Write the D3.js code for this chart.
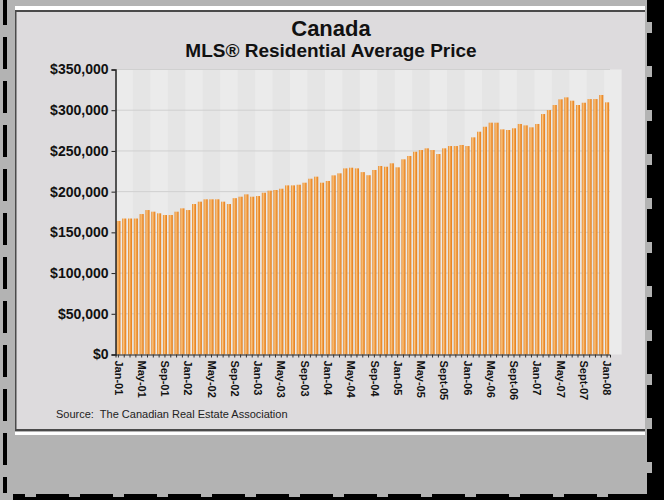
<!DOCTYPE html>
<html>
<head>
<meta charset="utf-8">
<script src="https://cdn.jsdelivr.net/npm/d3@7"></script>
<style>
  html, body { margin: 0; padding: 0; background: #b3b3b3; }
  svg { display: block; font-family: "Liberation Sans", Arial, sans-serif; }
</style>
</head>
<body>
<div id="chart"></div>
<script>
// monthly average price, Jan-01 .. Jan-08 (thousands of dollars)
const years = ["01", "02", "03", "04", "05", "06", "07", "08"];
const monthNames = ["Jan", "Feb", "Mar", "Apr", "May", "Jun", "Jul", "Aug", "Sep", "Oct", "Nov", "Dec"];

const prices = [
    164, 167, 167, 167, 172.5, 177.4, 175.4, 173.4, 171.3, 171.3, 175.4, 179.5,
    177.4, 184.8, 187.7, 190.6, 190.6, 190.6, 187.7, 184.8, 192, 193.8, 196.7, 193.8,
    194.6, 198.7, 201.2, 202, 203.6, 207.7, 207.7, 208.5, 211, 215.9, 218.4, 211,
    213.1, 220, 222.5, 228.6, 229.4, 228.6, 224, 220.2, 226.6, 231.5, 230.6, 234.8,
    229.9, 239.7, 243.8, 249, 251.1, 253.2, 251.1, 246.2, 253.2, 256, 256, 257.3,
    256, 266.7, 273.6, 279.7, 284.7, 284.7, 276.5, 275.7, 277.8, 283.1, 281.4, 279,
    283.1, 295.3, 300.2, 306.4, 313.4, 315.8, 311.7, 306.4, 309.2, 313.7, 313.7, 318.7,
    309.7
];

const tickLabels = ["Jan-01", "May-01", "Sep-01", "Jan-02", "May-02", "Sep-02", "Jan-03", "May-03",
    "Sep-03", "Jan-04", "May-04", "Sep-04", "Jan-05", "May-05", "Sept-05", "Jan-06",
    "May-06", "Sept-06", "Jan-07", "May-07", "Sept-07", "Jan-08"];

const yTicks = [0, 50000, 100000, 150000, 200000, 250000, 300000, 350000];

const months = prices.map((d, i) => monthNames[i % 12] + "-" + years[Math.floor(i / 12)]);
const data = prices.map((p, i) => ({ month: months[i], price: p * 1000 }));

const width = 664, height = 500;
const plot = { left: 115.5, right: 610, top: 69.5, bottom: 354.5 };

const svg = d3.select("#chart").append("svg")
    .attr("width", width)
    .attr("height", height);

const defs = svg.append("defs");
const grad = defs.append("linearGradient")
    .attr("id", "barGrad")
    .attr("x1", 0).attr("x2", 1).attr("y1", 0).attr("y2", 0);
grad.append("stop").attr("offset", "0%").attr("stop-color", "#e57d17");
grad.append("stop").attr("offset", "35%").attr("stop-color", "#f9c684");
grad.append("stop").attr("offset", "60%").attr("stop-color", "#f3a04a");
grad.append("stop").attr("offset", "100%").attr("stop-color", "#e27912");

// ---- frame ----
svg.append("rect").attr("width", width).attr("height", height).attr("fill", "#b3b3b3");

// left dashed edge
svg.append("line")
    .attr("x1", 5).attr("x2", 5).attr("y1", 0).attr("y2", 493)
    .attr("stroke", "#000").attr("stroke-width", 4)
    .attr("stroke-dasharray", "32 12").attr("stroke-dashoffset", 7);

// right black edge with notches
svg.append("rect").attr("x", 647).attr("y", 0).attr("width", 17).attr("height", height).attr("fill", "#000");
svg.append("g").selectAll("rect")
    .data(d3.range(22, 500, 44))
    .join("rect")
    .attr("x", 645).attr("y", d => d).attr("width", 7).attr("height", 11)
    .attr("fill", "#b3b3b3");

// bottom black edge with notches
svg.append("rect").attr("x", 13).attr("y", 494).attr("width", width - 13).attr("height", 6).attr("fill", "#000");
svg.append("g").selectAll("rect")
    .data(d3.range(25, 640, 44))
    .join("rect")
    .attr("x", d => d).attr("y", 492).attr("width", 11).attr("height", 5)
    .attr("fill", "#b3b3b3");

// panel
svg.append("rect").attr("x", 15).attr("y", 6).attr("width", 630).attr("height", 4).attr("fill", "#fff");
svg.append("rect").attr("x", 15).attr("y", 432).attr("width", 630).attr("height", 3).attr("fill", "#fff");
svg.append("rect").attr("x", 15).attr("y", 10).attr("width", 630).attr("height", 421).attr("fill", "#dddbdd");
svg.append("rect").attr("x", 15).attr("y", 10).attr("width", 630).attr("height", 2).attr("fill", "#4a4a4a");
svg.append("rect").attr("x", 15).attr("y", 429).attr("width", 630).attr("height", 2).attr("fill", "#4a4a4a");
svg.append("rect").attr("x", 15).attr("y", 10).attr("width", 1.5).attr("height", 421).attr("fill", "#4a4a4a");

// ---- scales ----
const x = d3.scaleBand()
    .domain(months)
    .range([plot.left, plot.right])
    .paddingInner(0.3)
    .paddingOuter(0.15);

const y = d3.scaleLinear()
    .domain([0, 350000])
    .range([plot.bottom, plot.top]);

// plot background with soft vertical bands
svg.append("rect")
    .attr("x", plot.left).attr("y", plot.top)
    .attr("width", plot.right - plot.left).attr("height", plot.bottom - plot.top)
    .attr("fill", "#e5e5e5");

const step = x.step();
svg.append("g").selectAll("rect")
    .data(d3.range(0, months.length, 6))
    .join("rect")
    .attr("x", i => plot.left + i * step)
    .attr("y", plot.top)
    .attr("width", 3 * step)
    .attr("height", plot.bottom - plot.top)
    .attr("fill", "#ebebeb");

// gridlines
svg.append("g").selectAll("line")
    .data(yTicks.filter(d => d > 0))
    .join("line")
    .attr("x1", plot.left).attr("x2", plot.right)
    .attr("y1", d => y(d)).attr("y2", d => y(d))
    .attr("stroke", "#d0d0d0").attr("stroke-width", 1);

// bars
svg.append("g").selectAll("rect")
    .data(data)
    .join("rect")
    .attr("x", d => x(d.month))
    .attr("y", d => y(d.price))
    .attr("width", x.bandwidth())
    .attr("height", d => y(0) - y(d.price))
    .attr("fill", "url(#barGrad)");

// y axis
const yAxis = svg.append("g")
    .attr("transform", `translate(${plot.left},0)`)
    .call(d3.axisLeft(y).tickValues(yTicks).tickSize(4).tickPadding(3)
        .tickFormat(d => "$" + d3.format(",")(d)));
yAxis.select(".domain").attr("stroke", "#222").attr("stroke-width", 1.5);
yAxis.selectAll(".tick line").attr("stroke", "#222");
yAxis.selectAll("text")
    .attr("fill", "#111")
    .style("font-size", "14px")
    .style("font-weight", "bold")
    .style("font-family", "'Liberation Sans', Arial, sans-serif");

// x axis: tick at each month, labels every 4th month
const xAxis = svg.append("g")
    .attr("transform", `translate(0,${plot.bottom})`)
    .call(d3.axisBottom(x).tickSize(3).tickFormat(""));
xAxis.select(".domain").attr("stroke", "#222").attr("stroke-width", 1);
xAxis.selectAll(".tick line").attr("stroke", "#333");

svg.append("g").selectAll("text")
    .data(tickLabels)
    .join("text")
    .attr("transform", (d, i) => `translate(${x(months[i * 4]) + x.bandwidth() / 2},${plot.bottom + 6}) rotate(90)`)
    .attr("dy", "0.35em")
    .attr("text-anchor", "start")
    .attr("fill", "#111")
    .style("font-size", "11px")
    .style("font-weight", "bold")
    .text(d => d);

// titles
svg.append("text")
    .attr("x", 331).attr("y", 36)
    .attr("text-anchor", "middle")
    .attr("fill", "#111")
    .style("font-size", "22px").style("font-weight", "bold")
    .text("Canada");

svg.append("text")
    .attr("x", 331).attr("y", 57)
    .attr("text-anchor", "middle")
    .attr("fill", "#111")
    .style("font-size", "19px").style("font-weight", "bold")
    .text("MLS® Residential Average Price");

svg.append("text")
    .attr("x", 56).attr("y", 418)
    .attr("fill", "#222")
    .style("font-size", "11px")
    .attr("xml:space", "preserve")
    .text("Source:  The Canadian Real Estate Association");
</script>
</body>
</html>
